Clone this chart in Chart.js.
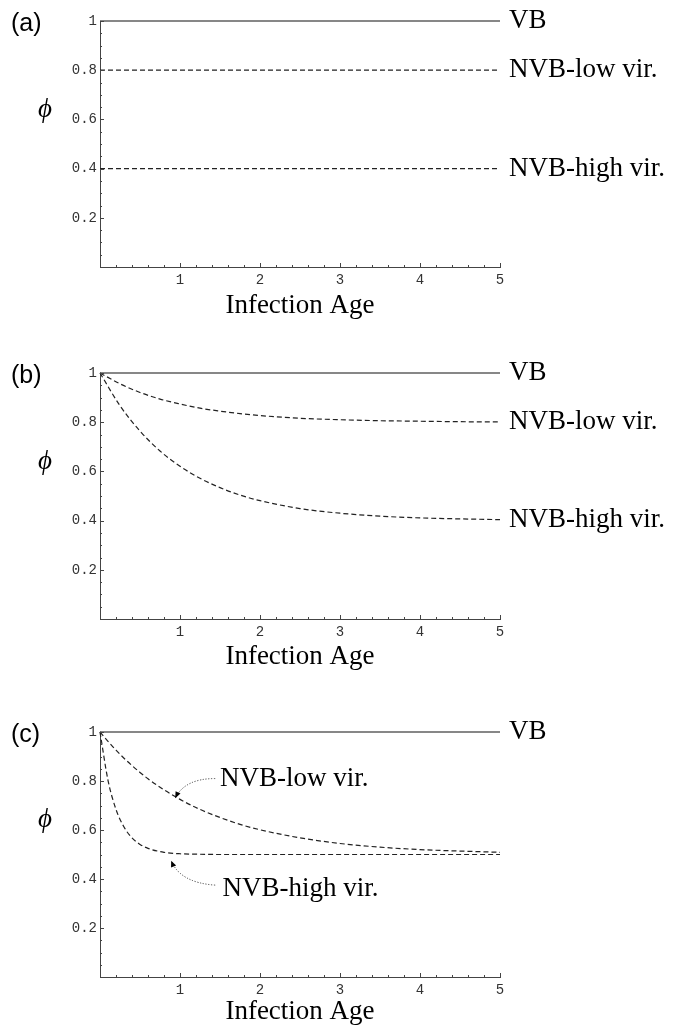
<!DOCTYPE html>
<html>
<head>
<meta charset="utf-8">
<script src="https://cdn.jsdelivr.net/npm/chart.js@4.4.0/dist/chart.umd.min.js"></script>
<style>
  body { margin: 0; background: #fff; width: 696px; height: 1025px; overflow: hidden; position: relative; }
  .panel { position: absolute; left: 0; width: 696px; }
</style>
</head>
<body>
<div class="panel" style="top:0"><canvas id="chartA" width="696" height="319"></canvas></div>
<div class="panel" style="top:340px"><canvas id="chartB" width="696" height="330"></canvas></div>
<div class="panel" style="top:690px"><canvas id="chartC" width="696" height="335"></canvas></div>
<script>
const SERIF = '"Liberation Serif", "Times New Roman", serif';
const MONO = '"Liberation Mono", "Courier New", monospace';
const SANS = '"Liberation Sans", Arial, sans-serif';

// VB is flat at 1 in every panel
const ageVB = [0, 5];
const vb = [1, 1];

// panel (a): constant phi
const ageA = [0, 5];
const lowA = [0.8, 0.8];
const highA = [0.4, 0.4];

// panel (b): decay towards 0.8 / 0.4
const ageB = [0, 0.25, 0.5, 0.75, 1, 1.25, 1.5, 1.75, 2, 2.5, 3, 3.5, 4, 4.5, 5];
const lowB = [1, 0.956, 0.921, 0.894, 0.874, 0.857, 0.845, 0.835, 0.827, 0.816, 0.810, 0.806, 0.804, 0.802, 0.801];
const highB = [1, 0.867, 0.764, 0.683, 0.621, 0.572, 0.534, 0.504, 0.481, 0.449, 0.430, 0.418, 0.411, 0.407, 0.404];

// panel (c): both decay towards 0.5
const ageC = [0, 0.1, 0.2, 0.3, 0.4, 0.5, 0.6, 0.8, 1, 1.25, 1.5, 1.75, 2, 2.5, 3, 3.5, 4, 4.5, 5];
const lowC = [1, 0.962, 0.926, 0.893, 0.863, 0.835, 0.809, 0.764, 0.725, 0.684, 0.651, 0.623, 0.601, 0.568, 0.545, 0.530, 0.520, 0.514, 0.509];
const highC = [1, 0.803, 0.684, 0.612, 0.568, 0.541, 0.525, 0.509, 0.503, 0.501, 0.500, 0.500, 0.500, 0.500, 0.500, 0.500, 0.500, 0.500, 0.500];

const seriesNames = ['VB', 'NVB-low vir.', 'NVB-high vir.'];
const xTickLabels = ['', '1', '2', '3', '4', '5'];
const yTickLabels = ['', '0.2', '0.4', '0.6', '0.8', '1'];

function pts(xs, ys) {
  return xs.map((x, i) => ({ x: x, y: ys[i] }));
}

function makeSets(ageLow, low, ageHigh, high) {
  const line = { pointRadius: 0, borderWidth: 1.2, clip: false, fill: false, cubicInterpolationMode: 'monotone' };
  return [
    Object.assign({ label: seriesNames[0], data: pts(ageVB, vb), borderColor: '#111' }, line),
    Object.assign({ label: seriesNames[1], data: pts(ageLow, low), borderColor: '#222', borderDash: [5, 3] }, line),
    Object.assign({ label: seriesNames[2], data: pts(ageHigh, high), borderColor: '#222', borderDash: [5, 3] }, line)
  ];
}

// extra drawing: inward ticks, panel tag, phi, series labels, arrows
const decor = {
  id: 'decor',
  afterDraw(chart, args, opts) {
    const ctx = chart.ctx;
    const xs = chart.scales.x, ys = chart.scales.y;
    const area = chart.chartArea;
    ctx.save();
    ctx.strokeStyle = '#444';
    ctx.lineWidth = 1;
    for (let i = 1; i <= 20; i++) {
      const y = Math.round(ys.getPixelForValue(i / 20)) + 0.5;
      const len = i % 4 === 0 ? 4 : 2;
      ctx.beginPath(); ctx.moveTo(area.left, y); ctx.lineTo(area.left + len, y); ctx.stroke();
    }
    for (let i = 1; i <= 25; i++) {
      const x = Math.round(xs.getPixelForValue(i / 5)) + 0.5;
      const len = i % 5 === 0 ? 4 : 2;
      ctx.beginPath(); ctx.moveTo(x, area.bottom); ctx.lineTo(x, area.bottom - len); ctx.stroke();
    }

    ctx.fillStyle = '#000';
    ctx.textBaseline = 'middle';
    ctx.textAlign = 'left';
    ctx.font = '25px ' + SANS;
    ctx.fillText(opts.tag, 11, area.top + 3);

    ctx.font = 'italic 27px ' + SERIF;
    ctx.textAlign = 'center';
    ctx.fillText('\u03D5', 45, ys.getPixelForValue(0.64));

    ctx.font = '27px ' + SERIF;
    ctx.textAlign = 'left';
    opts.rightLabels.forEach(i => {
      const d = chart.data.datasets[i].data;
      ctx.fillText(chart.data.datasets[i].label, area.right + 9, ys.getPixelForValue(d[d.length - 1].y));
    });

    (opts.notes || []).forEach(n => {
      ctx.fillText(n.text, xs.getPixelForValue(n.at[0]), ys.getPixelForValue(n.at[1]));
      const p0 = [xs.getPixelForValue(n.from[0]), ys.getPixelForValue(n.from[1])];
      const pc = [xs.getPixelForValue(n.ctrl[0]), ys.getPixelForValue(n.ctrl[1])];
      const pt = [xs.getPixelForValue(n.tip[0]), ys.getPixelForValue(n.tip[1])];
      ctx.setLineDash([1.2, 1.6]);
      ctx.lineWidth = 1;
      ctx.beginPath(); ctx.moveTo(p0[0], p0[1]); ctx.quadraticCurveTo(pc[0], pc[1], pt[0], pt[1]); ctx.stroke();
      ctx.setLineDash([]);
      const a = Math.atan2(pt[1] - pc[1], pt[0] - pc[0]);
      ctx.beginPath();
      ctx.moveTo(pt[0], pt[1]);
      ctx.lineTo(pt[0] - 7 * Math.cos(a - 0.4), pt[1] - 7 * Math.sin(a - 0.4));
      ctx.lineTo(pt[0] - 7 * Math.cos(a + 0.4), pt[1] - 7 * Math.sin(a + 0.4));
      ctx.closePath();
      ctx.fill();
    });
    ctx.restore();
  }
};

function makeChart(id, datasets, padTop, axisH, decorOpts) {
  return new Chart(document.getElementById(id), {
    type: 'line',
    data: { datasets: datasets },
    plugins: [decor],
    options: {
      responsive: false,
      animation: false,
      layout: { padding: { left: 0, right: 196, top: padTop, bottom: 0 } },
      plugins: { legend: { display: false }, tooltip: { enabled: false }, decor: decorOpts },
      scales: {
        x: {
          type: 'linear', min: 0, max: 5,
          afterFit: s => { s.height = axisH; },
          grid: { drawOnChartArea: false, drawTicks: false },
          border: { color: '#444', width: 1 },
          ticks: { stepSize: 1, padding: 5, color: '#333', font: { family: MONO, size: 14 },
                   maxRotation: 0, callback: (v, i) => xTickLabels[i] },
          title: { display: true, text: 'Infection Age', color: '#000', padding: 0,
                   font: { family: SERIF, size: 27, lineHeight: 1 } }
        },
        y: {
          type: 'linear', min: 0, max: 1,
          afterFit: s => { s.width = 100; },
          grid: { drawOnChartArea: false, drawTicks: false },
          border: { color: '#444', width: 1 },
          ticks: { stepSize: 0.2, padding: 3, color: '#333', font: { family: MONO, size: 14 },
                   callback: (v, i) => yTickLabels[i] }
        }
      }
    }
  });
}

makeChart('chartA', makeSets(ageA, lowA, ageA, highA), 21, 52, { tag: '(a)', rightLabels: [0, 1, 2] });
makeChart('chartB', makeSets(ageB, lowB, ageB, highB), 33, 51, { tag: '(b)', rightLabels: [0, 1, 2] });
makeChart('chartC', makeSets(ageC, lowC, ageC, highC), 42, 48, {
  tag: '(c)', rightLabels: [0],
  notes: [
    { text: 'NVB-low vir.', at: [1.5, 0.81], from: [1.44, 0.81], ctrl: [1.06, 0.81], tip: [0.94, 0.73] },
    { text: 'NVB-high vir.', at: [1.53, 0.36], from: [1.44, 0.375], ctrl: [1.0, 0.385], tip: [0.89, 0.475] }
  ]
});
</script>
</body>
</html>
